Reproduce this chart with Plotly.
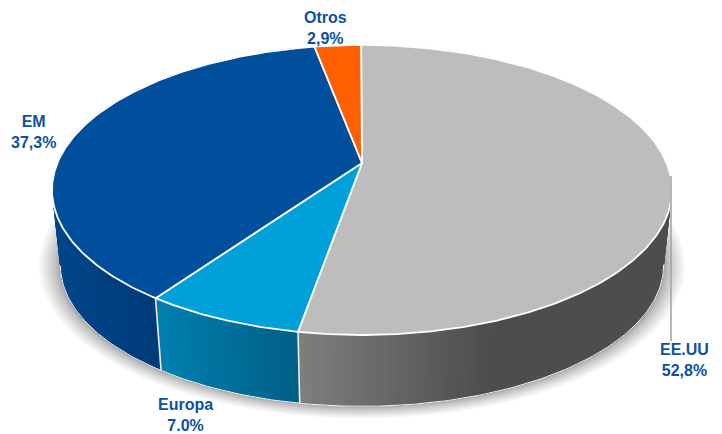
import numpy as np
import plotly.graph_objects as go

# ---- chart values ----
categories = ["EE.UU", "Europa", "EM", "Otros"]
values = [52.8, 7.0, 37.3, 2.9]
value_labels = ["52,8%", "7.0%", "37,3%", "2,9%"]

# ---- styles ----
top_colors = ["#BDBDBD", "#00A0DA", "#004F9C", "#FF5F00"]
wall_left = ["#7E7E7E", "#007FAE", "#004587", "#FF5F00"]
wall_right = ["#4D4D4D", "#005F85", "#003B78", "#FF5F00"]
wall_span = [(300, 490), (160, 300), (60, 160), (0, 1)]
label_pos = [(684, 360), (185, 415), (33, 132), (325, 28)]
text_color = "#0B52A0"

# ---- projection of the disc (geometry of the 3D look) ----
CX, CY = 362.0, 163.0
A, B, K = 304.6, 140.0, 0.186
S, DY = 0.973, 76.0
ROT = -0.2


def top(theta):
    """Clockwise angle in degrees from 12 o'clock to the disc's top face."""
    t = np.radians(np.asarray(theta, dtype=float) + ROT)
    u, v = np.sin(t), -np.cos(t)
    d = 1 - K * v
    return CX + A * u / d, CY + B * v / d


def bottom(theta):
    x, y = top(theta)
    return CX + S * (x - CX), CY + S * (y - CY) + DY


def hex_mix(c1, c2, f):
    f = min(max(f, 0.0), 1.0)
    a = [int(c1[i:i + 2], 16) for i in (1, 3, 5)]
    b = [int(c2[i:i + 2], 16) for i in (1, 3, 5)]
    m = [round(p + (q - p) * f) for p, q in zip(a, b)]
    return "#%02X%02X%02X" % tuple(m)


def poly(x, y, fill, line="rgba(0,0,0,0)", width=0):
    return go.Scatter(x=list(x), y=list(y), mode="lines", fill="toself",
                      fillcolor=fill, line=dict(color=line, width=width),
                      hoverinfo="skip", showlegend=False)


edges = np.concatenate([[0.0], np.cumsum(values)]) * 3.6
fig = go.Figure()

# soft shadow under the disc: layers crowd toward the disc so it fades outward
ring = np.linspace(0, 360, 181)
bx, by = bottom(ring)
for f in np.linspace(1.0, 0.0, 16) ** 1.6:
    sx = 1 + 0.072 * f
    sy = 1 + 0.085 * f
    fig.add_trace(poly(CX + (bx - CX) * sx, 262 + (by - 262) * sy, "rgba(0,0,0,0.028)"))

# side wall: wide overlapping ruled quads give the true silhouette at both ends
for i in [0, 2]:
    end_colour = wall_right[i] if i == 0 else wall_left[i]
    for a in np.arange(edges[i], edges[i + 1] - 0.5, 2.0):
        b = min(a + 8.0, edges[i + 1])
        tx, ty = top([a, b])
        ux, uy = bottom([b, a])
        fig.add_trace(poly([*tx, *ux, float(tx[0])], [*ty, *uy, float(ty[0])], end_colour))

# gradient strips: each reaches to the slice's end, so no seam can show the background
for i in range(len(values)):
    th = np.arange(edges[i], edges[i + 1], 1.0)
    x0, x1 = wall_span[i]
    end = edges[i + 1]
    last = None
    for a in th:
        mx, _ = top(a + 0.5)
        c = hex_mix(wall_left[i], wall_right[i], (float(mx) - x0) / (x1 - x0))
        if c == last:
            continue
        last = c
        arc_th = np.linspace(a, end, max(int(end - a) + 2, 2))
        tx, ty = top(arc_th)
        ux, uy = bottom(arc_th[::-1])
        xs = np.concatenate([tx, ux, tx[:1]])
        ys = np.concatenate([ty, uy, ty[:1]])
        fig.add_trace(poly(xs, ys, c))

# thin white edge along the wall's foot (between the two silhouette tangents)
tangent = np.degrees(np.arccos(-K))
arc = np.linspace(tangent, 360 - tangent, 200)
ax, ay = bottom(arc)
fig.add_trace(go.Scatter(x=ax, y=ay, mode="lines", line=dict(color="#F4F4F4", width=1),
                         hoverinfo="skip", showlegend=False))

# white separators on the wall
for e in edges[1:3]:
    tx, ty = top(e)
    ux, uy = bottom(e)
    fig.add_trace(go.Scatter(x=[float(tx), float(ux)], y=[float(ty), float(uy)], mode="lines",
                             line=dict(color="#EDEDED", width=1.6),
                             hoverinfo="skip", showlegend=False))

# top face slices
for i in range(len(values)):
    th = np.linspace(edges[i], edges[i + 1], max(int(values[i] * 6), 8))
    x, y = top(th)
    xs = np.concatenate([[CX], x, [CX]])
    ys = np.concatenate([[CY], y, [CY]])
    fig.add_trace(poly(xs, ys, top_colors[i], "#FFFFFF", 1.8))

# leader line of the first label
lx = label_pos[0][0] - 13
fig.add_trace(go.Scatter(x=[lx, lx], y=[176, 341], mode="lines",
                         line=dict(color="#A6A6A6", width=1.6),
                         hoverinfo="skip", showlegend=False))

# labels
for name, val, (px, py) in zip(categories, value_labels, label_pos):
    fig.add_annotation(x=px, y=py, xref="x", yref="y", text=f"<b>{name}<br>{val}</b>",
                       showarrow=False, align="center",
                       font=dict(family="Liberation Sans", size=16, color=text_color))

fig.update_layout(width=722, height=434, margin=dict(l=0, r=0, t=0, b=0),
                  paper_bgcolor="white", plot_bgcolor="white", showlegend=False,
                  xaxis=dict(range=[0, 722], visible=False, fixedrange=True),
                  yaxis=dict(range=[434, 0], visible=False, fixedrange=True))

fig.write_html("out.html", config={"displayModeBar": False},
               post_script="document.body.style.margin='0';")
